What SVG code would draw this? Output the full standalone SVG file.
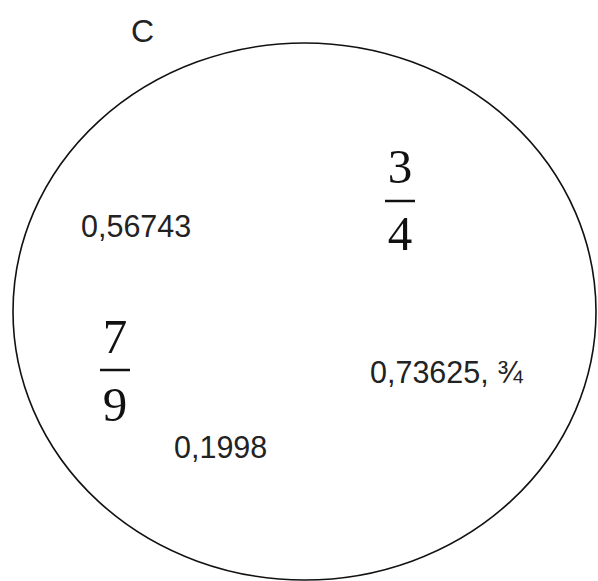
<svg xmlns="http://www.w3.org/2000/svg" width="598" height="581" viewBox="0 0 598 581">
<style>
.s{font-family:"Liberation Sans",Arial,sans-serif;font-size:30.5px;fill:#222}
.f{font-family:"Liberation Serif","Times New Roman",serif;font-size:49px;fill:#111;text-anchor:middle}
.bar{stroke:#111;stroke-width:2.5}
</style>
<rect width="598" height="581" fill="#fff"/>
<g id="set-c">
<ellipse cx="304.5" cy="311.5" rx="291.5" ry="268.5" fill="none" stroke="#111" stroke-width="1.6"/>
<text class="s" x="131" y="42" style="font-size:32px">C</text>
</g>
<g id="n1"><text class="s" x="81" y="237">0,56743</text></g>
<g id="n2">
<text class="f" x="400" y="183">3</text>
<line class="bar" x1="385" y1="201" x2="415" y2="201"/>
<text class="f" x="400" y="250">4</text>
</g>
<g id="n3">
<text class="f" x="115" y="353">7</text>
<line class="bar" x1="100" y1="370" x2="130" y2="370"/>
<text class="f" x="115" y="421">9</text>
</g>
<g id="n4"><text class="s" x="370" y="383">0,73625, ¾</text></g>
<g id="n5"><text class="s" x="174" y="458">0,1998</text></g>
</svg>
